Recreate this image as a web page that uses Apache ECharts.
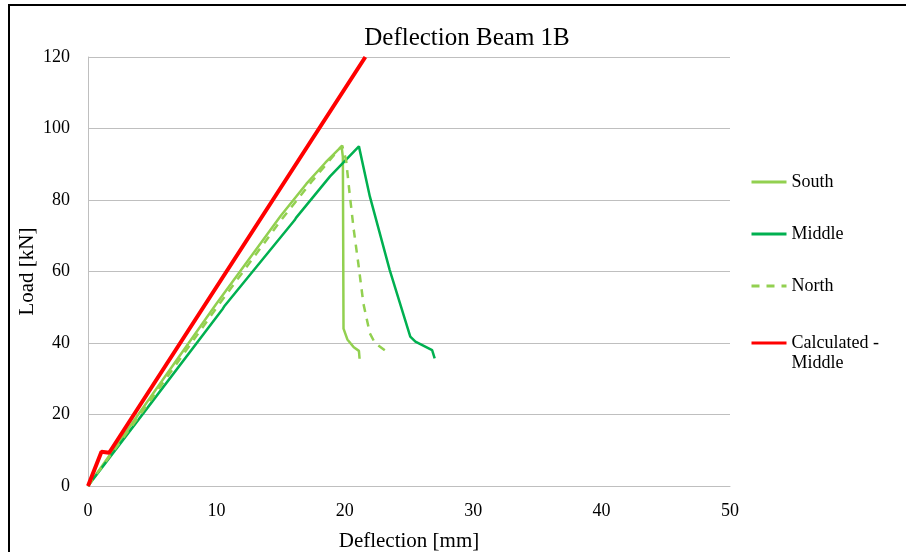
<!DOCTYPE html>
<html lang="en">
<head>
    <meta charset="UTF-8">
    <title>Deflection Beam 1B</title>
    <script type="text/javascript" src="https://cdn.jsdelivr.net/npm/echarts@6/dist/echarts.min.js"></script>
    <style>
        html, body { margin: 0; padding: 0; width: 100%; height: 100%; overflow: hidden; background: #fff; }
    </style>
</head>
<body>
<div id="main" style="width:100%;height:100%;"></div>
<script>
    // deflection [mm], load [kN]
    let southData = [[0, 0], [5, 25.5], [10, 51], [15, 75.5], [17, 84.5], [18.5, 90.5], [19.75, 95], [19.85, 92],
        [19.9, 44], [20.2, 41], [20.7, 38.8], [21.1, 37.8], [21.15, 35.6]];
    let middleData = [[0, 0], [5, 23.6], [10.5, 49.6], [10.6, 50.2], [16.1, 74.4], [16.2, 75], [18.85, 86.6],
        [21.1, 95], [21.95, 81], [23.5, 60.4], [25.1, 41.8], [25.5, 40.4], [26.8, 38], [27, 35.7]];
    let northData = [[0, 0], [5, 24.6], [10, 49.8], [15, 74.2], [17.5, 85.5], [19.5, 94], [19.8, 95.2],
        [20.1, 91.2], [20.4, 81], [20.7, 71.6], [21.05, 62.3], [21.45, 51], [21.95, 42.7], [22.35, 40], [23.3, 37.5]];
    let calcData = [[0, 0], [1.05, 9.6], [1.65, 9.3], [21.6, 120]];
    let seriesNames = ['South', 'Middle', 'North', 'Calculated -\nMiddle'];

    const serif = 'Liberation Serif';
    let myChart = echarts.init(document.getElementById('main'));

    function line(name, data, color, width, type) {
        return {
            name: name,
            type: 'line',
            data: data,
            symbol: 'none',
            clip: true,
            lineStyle: { color: color, width: width, type: type },
            itemStyle: { color: color }
        };
    }

    function legendBox(names, top, fmt) {
        return {
            orient: 'vertical',
            left: 750,
            top: top,
            padding: 0,
            itemWidth: 35,
            itemHeight: 14,
            itemGap: 32,
            data: names,
            formatter: fmt,
            itemStyle: { opacity: 0 },
            lineStyle: { width: 3 },
            textStyle: { fontFamily: serif, fontSize: 18, color: '#000', lineHeight: 20 }
        };
    }

    let option = {
        animation: false,
        title: {
            text: 'Deflection Beam 1B',
            left: 462,
            top: 21,
            textAlign: 'center',
            textStyle: { fontFamily: serif, fontSize: 25, fontWeight: 'normal', color: '#000' }
        },
        graphic: [{
            type: 'rect',
            shape: { x: 9, y: 5, width: 920, height: 580 },
            style: { fill: 'none', stroke: '#000', lineWidth: 2 },
            silent: true
        }],
        legend: [
            legendBox(seriesNames.slice(0, 3), 172, '{name}'),
            // blank first line keeps the line sample level with "Calculated -"
            legendBox(seriesNames.slice(3), 313, function (name) { return '\n' + name; })
        ],
        grid: { left: 88, top: 57, width: 642, height: 429, containLabel: false, outerBoundsMode: 'none' },
        xAxis: {
            type: 'value',
            min: 0,
            max: 50,
            interval: 10,
            name: 'Deflection [mm]',
            nameLocation: 'middle',
            nameGap: 45,
            nameTextStyle: { fontFamily: serif, fontSize: 21, color: '#000' },
            axisLine: { lineStyle: { color: '#bfbfbf', width: 1 } },
            axisTick: { show: false },
            splitLine: { show: false },
            axisLabel: { fontFamily: serif, fontSize: 18, color: '#000', margin: 16 }
        },
        yAxis: {
            type: 'value',
            min: 0,
            max: 120,
            interval: 20,
            name: 'Load [kN]',
            nameLocation: 'middle',
            nameGap: 50,
            nameMoveOverlap: false,
            nameTextStyle: { fontFamily: serif, fontSize: 21, color: '#000' },
            axisLine: { show: true, lineStyle: { color: '#bfbfbf', width: 1 } },
            axisTick: { show: false },
            splitLine: { lineStyle: { color: '#bfbfbf', width: 1 } },
            axisLabel: { fontFamily: serif, fontSize: 18, color: '#000', margin: 18 }
        },
        series: [
            line(seriesNames[0], southData, '#92D050', 2.5, 'solid'),
            line(seriesNames[1], middleData, '#00B050', 2.5, 'solid'),
            line(seriesNames[2], northData, '#92D050', 2.5, [8, 7]),
            line(seriesNames[3], calcData, '#FF0000', 4, 'solid')
        ]
    };
    myChart.setOption(option);
</script>
</body>
</html>
